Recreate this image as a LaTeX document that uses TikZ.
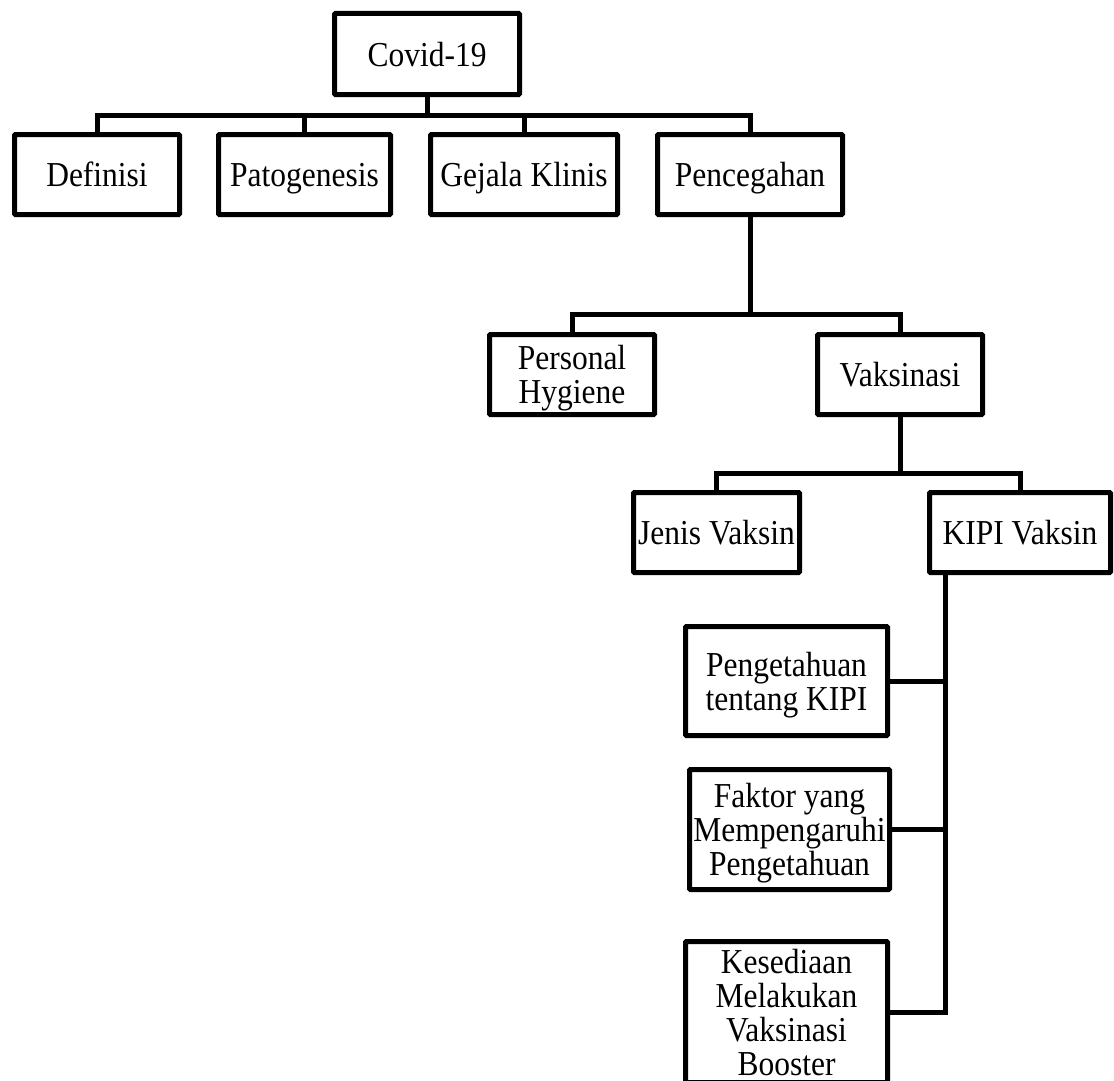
\documentclass[tikz,border=0pt]{standalone}
\usepackage{fontspec}
\setmainfont[FakeStretch=0.9]{Liberation Serif}
\newcommand\boxfont{\fontsize{35}{34}\selectfont}
\newcommand\nodepth[1]{\raisebox{0pt}[\height][0pt]{#1}}
\begin{document}
\begin{tikzpicture}[x=1pt,y=-1pt,
  box/.style={draw, line width=5pt, inner sep=0pt, align=center, font=\boxfont, rounded corners=1pt},
  conn/.style={line width=5pt}]
\useasboundingbox (0,0) rectangle (1114,1081);
% nodes (width/height = outer size minus line width)
\node[box, minimum width=185, minimum height=81] (covid) at (427,54) {\nodepth{Covid-19}};
\node[box, minimum width=165, minimum height=80] (def) at (97,174.5) {\nodepth{Definisi}};
\node[box, minimum width=172, minimum height=80] (pat) at (304.5,174.5) {\nodepth{Patogenesis}};
\node[box, minimum width=187, minimum height=80] (gej) at (524,174.5) {\nodepth{Gejala Klinis}};
\node[box, minimum width=185, minimum height=80] (pen) at (750,174.5) {\nodepth{Pencegahan}};
\node[box, minimum width=165, minimum height=80] (ph) at (572,374.5) {Personal\\\nodepth{Hygiene}};
\node[box, minimum width=165, minimum height=80] (vak) at (900,374.5) {\nodepth{Vaksinasi}};
\node[box, minimum width=166, minimum height=80] (jv) at (716.5,532.5) {\nodepth{Jenis Vaksin}};
\node[box, minimum width=181, minimum height=80] (kipi) at (1020,532.5) {\nodepth{KIPI Vaksin}};
\node[box, minimum width=202, minimum height=109] (pk) at (786.5,681) {Pengetahuan\\\nodepth{tentang KIPI}};
\node[box, minimum width=200, minimum height=120] (fk) at (789.5,829.5) {Faktor yang\\Mempengaruhi\\\nodepth{Pengetahuan}};
\node[box, minimum width=202, minimum height=141] (kes) at (786.5,1012) {Kesediaan\\Melakukan\\Vaksinasi\\\nodepth{Booster}};
% junction coordinates
\coordinate (b1) at (427,115);
\coordinate (b2) at (750,314);
\coordinate (b3) at (900,473);
\coordinate (k0) at (945,575);
% level 1
\draw[conn] (covid.south) -- (b1);
\draw[conn] (def.north) |- (b1) -| (pen.north);
\draw[conn] (pat.north) -- (pat.north |- b1);
\draw[conn] (gej.north) -- (gej.north |- b1);
% level 2
\draw[conn] (pen.south) -- (b2);
\draw[conn] (ph.north) |- (b2) -| (vak.north);
% level 3
\draw[conn] (vak.south) -- (b3);
\draw[conn] (jv.north) |- (b3) -| (kipi.north);
% level 4
\draw[conn] (k0) -- (k0 |- kes.east) -- (kes.east);
\draw[conn] (pk.east) -- (pk.east -| k0);
\draw[conn] (fk.east) -- (fk.east -| k0);
\end{tikzpicture}
\end{document}
